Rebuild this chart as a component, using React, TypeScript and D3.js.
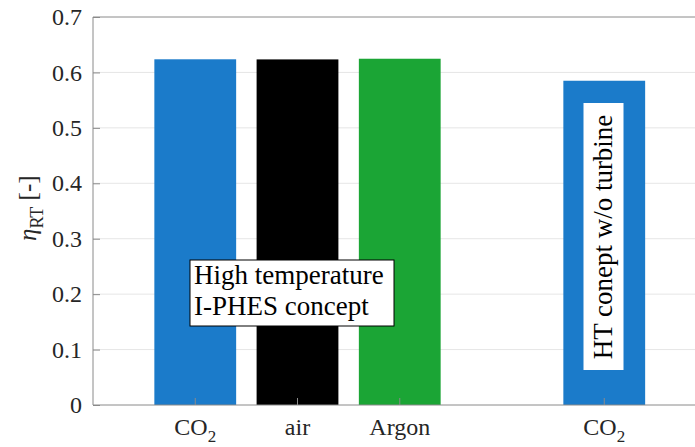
import React, { useRef, useEffect } from 'react';
import * as d3 from 'd3';

// categories: [main label, subscript]
const labels = [['CO', '2'], ['air', ''], ['Argon', ''], ['CO', '2']];
const positions = [1, 2, 3, 5];
const values = [0.6237, 0.6235, 0.6247, 0.585];
const colors = ['#1b7bca', '#000000', '#1ba535', '#1b7bca'];
const yTicks = [0, 0.1, 0.2, 0.3, 0.4, 0.5, 0.6, 0.7];

const W = 695;
const H = 447;
const FONT = "'Liberation Serif', Tinos, 'Nimbus Roman', FreeSerif, 'DejaVu Serif', serif";

function App() {
  const svgRef = useRef<SVGSVGElement>(null);

  useEffect(() => {
    const svg = d3.select(svgRef.current);
    svg.selectAll('*').remove();
    const margin = { top: 17, left: 93, bottom: 42 };

    const x = d3.scaleLinear().domain([0, 6]).range([margin.left, 706.5]);
    const y = d3.scaleLinear().domain([0, 0.7]).range([H - margin.bottom, margin.top]);
    const bw = (x(1) - x(0)) * 0.8;

    // grid
    svg.append('g')
      .selectAll('line')
      .data(yTicks.slice(1, -1))
      .join('line')
      .attr('x1', margin.left).attr('x2', W)
      .attr('y1', d => y(d)).attr('y2', d => y(d))
      .attr('stroke', '#e6e6e6').attr('stroke-width', 1);

    // bars
    svg.append('g')
      .selectAll('rect')
      .data(values)
      .join('rect')
      .attr('x', (d, i) => x(positions[i]) - bw / 2)
      .attr('width', bw)
      .attr('y', d => y(d))
      .attr('height', d => y(0) - y(d))
      .attr('fill', (d, i) => colors[i]);

    // box
    svg.append('path')
      .attr('d', `M${W},${y(0.7)}H${margin.left}V${y(0)}H${W}`)
      .attr('fill', 'none').attr('stroke', '#8a8a8a').attr('stroke-width', 1);

    // y axis
    const yAxis = d3.axisLeft(y).tickValues(yTicks).tickSize(-7).tickPadding(11)
      .tickFormat(d => (d === 0 ? '0' : d3.format('.1f')(d as number)));
    const ga = svg.append('g').attr('transform', `translate(${margin.left},0)`).call(yAxis);
    ga.select('.domain').remove();
    ga.selectAll('line').attr('stroke', '#8a8a8a');
    ga.attr('font-family', null).attr('font-size', null);
    ga.selectAll('text').style('font-family', FONT).style('font-size', '24px').attr('fill', '#262626');

    // x tick labels
    const xl = svg.append('g');
    labels.forEach((l, i) => {
      const t = xl.append('text')
        .attr('x', x(positions[i]))
        .attr('y', 435)
        .attr('text-anchor', 'middle')
        .style('font-family', FONT).style('font-size', '24px').attr('fill', '#262626');
      t.append('tspan').text(l[0]);
      if (l[1]) t.append('tspan').attr('dy', 7).style('font-size', '17px').text(l[1]);
      svg.append('line')
        .attr('x1', x(positions[i])).attr('x2', x(positions[i]))
        .attr('y1', y(0)).attr('y2', y(0) - 7)
        .attr('stroke', '#8a8a8a');
    });

    // y label
    const yl = svg.append('text')
      .attr('transform', `translate(36,${y(0.355)}) rotate(-90)`)
      .attr('text-anchor', 'middle')
      .style('font-family', FONT).style('font-size', '25px').attr('fill', '#262626');
    yl.append('tspan').style('font-style', 'italic').text('η');
    yl.append('tspan').attr('dy', 7).style('font-size', '18px').text('RT');
    yl.append('tspan').attr('dy', -7).text(' [-]');

    // annotation box
    svg.append('rect')
      .attr('x', 190).attr('y', 260).attr('width', 204).attr('height', 66)
      .attr('fill', '#fff').attr('stroke', '#000').attr('stroke-width', 1);
    svg.append('text').attr('x', 194).attr('y', 284)
      .style('font-family', FONT).style('font-size', '27px').attr('fill', '#000')
      .text('High temperature');
    svg.append('text').attr('x', 194).attr('y', 315)
      .style('font-family', FONT).style('font-size', '27px').attr('fill', '#000')
      .text('I-PHES concept');

    // vertical annotation
    svg.append('rect')
      .attr('x', 583.5).attr('y', 103).attr('width', 40).attr('height', 267)
      .attr('fill', '#fff');
    svg.append('text')
      .attr('transform', `translate(612,237) rotate(-90)`)
      .attr('text-anchor', 'middle')
      .style('font-family', FONT).style('font-size', '27px').attr('fill', '#000')
      .text('HT conept w/o turbine');
  }, []);

  return (
    <svg ref={svgRef} width={W} height={H}
      style={{ position: 'absolute', left: 0, top: 0, background: '#fff' }} />
  );
}

export default App;
